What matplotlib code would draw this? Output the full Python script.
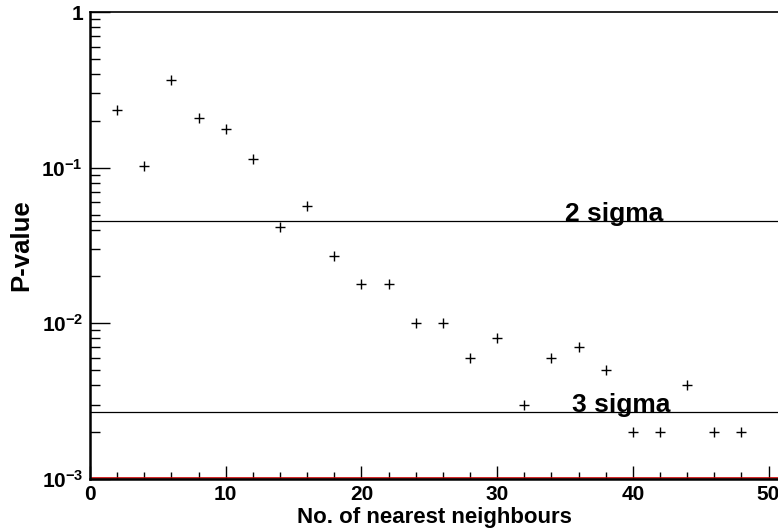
import matplotlib
matplotlib.use("Agg")
import matplotlib.pyplot as plt
from matplotlib.ticker import FixedLocator, LogLocator, NullFormatter, MultipleLocator

plt.rcParams['font.family'] = ['Liberation Sans', 'DejaVu Sans']
plt.rcParams['mathtext.fontset'] = 'custom'
plt.rcParams['mathtext.rm'] = 'Liberation Sans'
plt.rcParams['mathtext.bf'] = 'Liberation Sans:bold'

neighbours = [2, 4, 6, 8, 10, 12, 14, 16, 18, 20, 22, 24, 26, 28, 30, 32, 34, 36, 38, 40, 42, 44, 46, 48]
p_values = [0.235, 0.1025, 0.366, 0.21, 0.177, 0.114, 0.0418, 0.057, 0.027, 0.018, 0.018, 0.010,
            0.010, 0.006, 0.008, 0.003, 0.006, 0.007, 0.005, 0.002, 0.002, 0.004, 0.002, 0.002]
sigma_levels = [0.0455, 0.0027]
sigma_labels = ["2 sigma", "3 sigma"]
sigma_label_x = [35.0, 35.5]
ytick_vals = [1e-3, 1e-2, 1e-1, 1]
ytick_labels = [r"$\mathbf{10^{-3}}$", r"$\mathbf{10^{-2}}$", r"$\mathbf{10^{-1}}$", "1"]

W, H = 778, 531
fig = plt.figure(figsize=(W / 100, H / 100), dpi=100)
xmax = 51.0
ppu = 13.57
ax = fig.add_axes([90 / W, 52 / H, xmax * ppu / W, 467 / H])
ax.set_yscale('log')
ax.set_xlim(0, xmax)
ax.set_ylim(1e-3, 1)

ax.plot(neighbours, p_values, linestyle='none', marker='+', color='black',
        markersize=7.5, markeredgewidth=1.0)

for lvl, lab, lx in zip(sigma_levels, sigma_labels, sigma_label_x):
    ax.axhline(lvl, color='black', linewidth=0.9)
    ax.text(lx, lvl, lab, fontsize=19, fontweight='bold', ha='left', va='baseline')

ax.axhline(1e-3 * 1.012, color='#cc0000', linewidth=1.2)

for s in ['left', 'bottom']:
    ax.spines[s].set_linewidth(1.8)
ax.spines['top'].set_linewidth(1.2)
ax.spines['right'].set_visible(False)

ax.yaxis.set_major_locator(FixedLocator(ytick_vals))
ax.set_yticklabels(ytick_labels)
ax.yaxis.set_minor_locator(LogLocator(base=10, subs=range(2, 10)))
ax.yaxis.set_minor_formatter(NullFormatter())
ax.xaxis.set_major_locator(MultipleLocator(10))
ax.xaxis.set_minor_locator(MultipleLocator(2))

ax.tick_params(axis='y', which='major', direction='in', length=14.4, width=1.0, labelsize=15, pad=5)
ax.tick_params(axis='y', which='minor', direction='in', length=7.2, width=1.0)
ax.tick_params(axis='x', which='major', direction='in', length=9.4, width=1.0, labelsize=15, pad=4)
ax.tick_params(axis='x', which='minor', direction='in', length=4.7, width=1.0)
for lab in ax.get_xticklabels() + ax.get_yticklabels():
    lab.set_fontweight('bold')

fig.text(434 / W, 1 - 523 / H, "No. of nearest neighbours", fontsize=16, fontweight='bold',
         ha='center', va='baseline')
fig.text(21 / W, 1 - 245 / H, "P-value", fontsize=18.5, fontweight='bold',
         ha='center', va='center', rotation=90)

fig.savefig("out.png", dpi=100)
